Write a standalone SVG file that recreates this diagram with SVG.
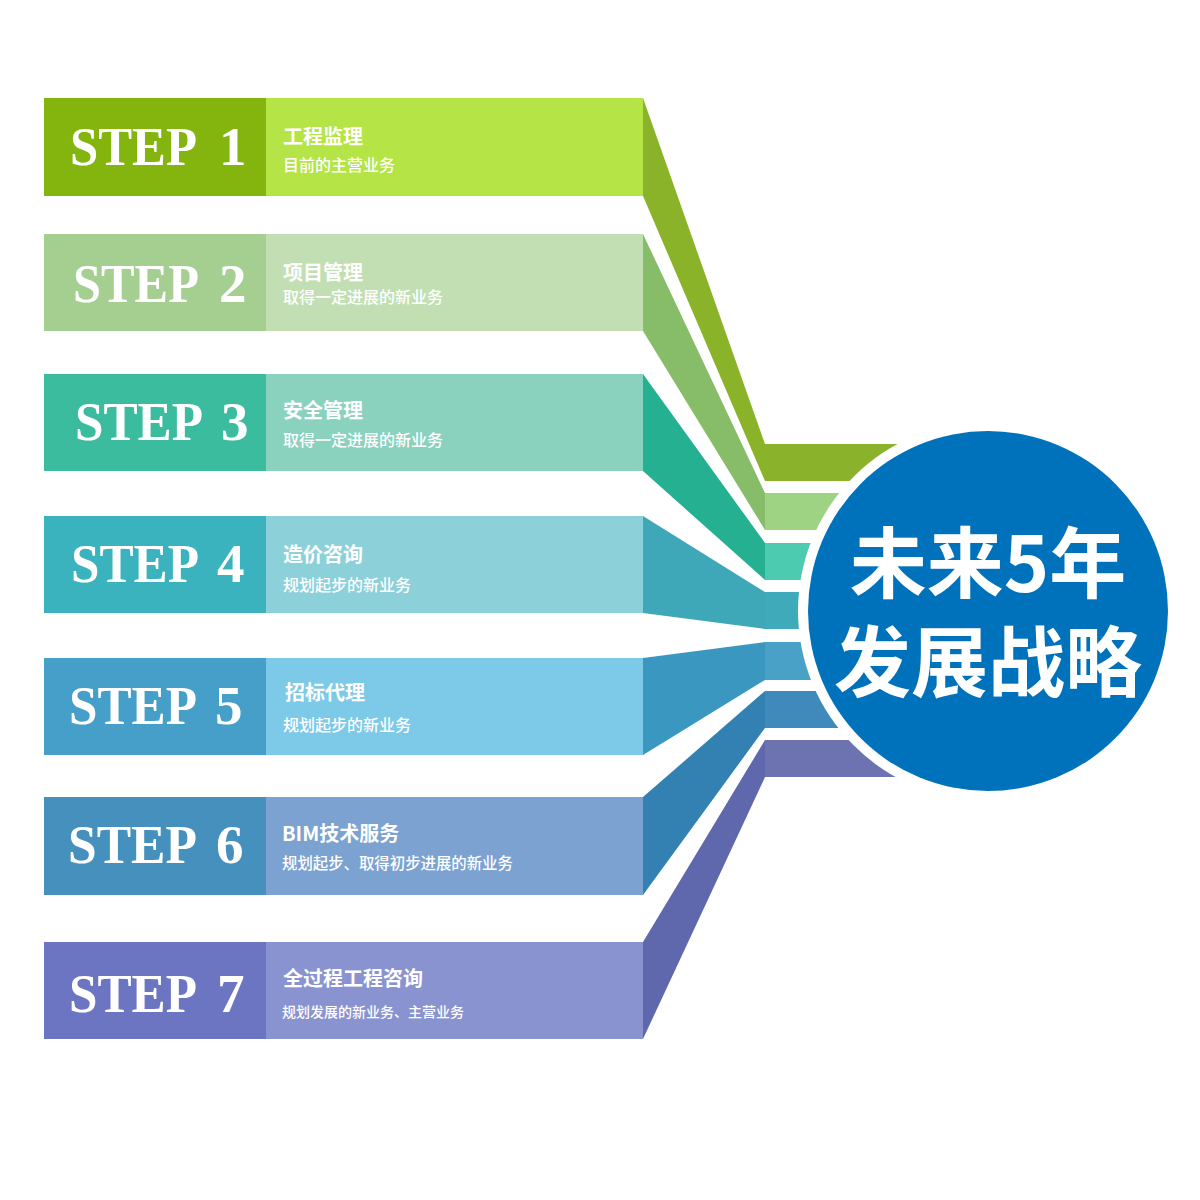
<svg xmlns="http://www.w3.org/2000/svg" width="1200" height="1200" viewBox="0 0 1200 1200">
<style>
.step{font-family:"Liberation Serif","Times New Roman",serif;font-weight:bold;font-size:55px;fill:#fff}
.ttl{font-family:"Noto Sans CJK SC","Noto Sans",sans-serif;font-weight:bold;font-size:20px;fill:#fff}
.sub{font-family:"Noto Sans CJK SC","Noto Sans",sans-serif;font-weight:500;font-size:16px;fill:#fff}
.big{font-family:"Noto Sans CJK SC","Noto Sans",sans-serif;font-weight:bold;font-size:77px;fill:#fff}
</style>
<rect width="1200" height="1200" fill="#fff"/>
<g id="connectors">
<polygon points="643,98 765,444 765,481 643,196" fill="#8ab32a"/>
<polygon points="643,234 765,493 765,530 643,331" fill="#87bd68"/>
<polygon points="643,374 765,543 765,580 643,471" fill="#25b091"/>
<polygon points="643,516 765,592 765,629 643,613" fill="#3ea8b8"/>
<polygon points="643,658 765,642 765,680 643,755" fill="#3a97c0"/>
<polygon points="643,797 765,691 765,728 643,895" fill="#3381b3"/>
<polygon points="643,942 765,740 765,777 643,1039" fill="#5f67ad"/>
<rect x="765" y="444" width="240" height="37" fill="#8ab22a"/>
<rect x="765" y="493" width="240" height="37" fill="#9fd384"/>
<rect x="765" y="543" width="240" height="37" fill="#4ccbb0"/>
<rect x="765" y="592" width="240" height="37" fill="#3faab9"/>
<rect x="765" y="642" width="240" height="38" fill="#4aa1c8"/>
<rect x="765" y="691" width="240" height="37" fill="#3f8aba"/>
<rect x="765" y="740" width="240" height="37" fill="#6c73b0"/>
</g>
<g id="step1">
<rect x="44" y="98" width="222" height="98" fill="#83b50e"/>
<rect x="266" y="98" width="377" height="98" fill="#b4e445"/>
<text class="step" x="70" y="165"><tspan textLength="127" lengthAdjust="spacingAndGlyphs">STEP</tspan><tspan x="219">1</tspan></text>
<text class="ttl" x="283" y="144">工程监理</text>
<text class="sub" x="283" y="171">目前的主营业务</text>
</g>
<g id="step2">
<rect x="44" y="234" width="222" height="97" fill="#a5cf91"/>
<rect x="266" y="234" width="377" height="97" fill="#c2dfb4"/>
<text class="step" x="73" y="302"><tspan textLength="126" lengthAdjust="spacingAndGlyphs">STEP</tspan><tspan x="219">2</tspan></text>
<text class="ttl" x="283" y="280">项目管理</text>
<text class="sub" x="283" y="303">取得一定进展的新业务</text>
</g>
<g id="step3">
<rect x="44" y="374" width="222" height="97" fill="#3cbc9e"/>
<rect x="266" y="374" width="377" height="97" fill="#8bd2be"/>
<text class="step" x="75" y="440"><tspan textLength="128" lengthAdjust="spacingAndGlyphs">STEP</tspan><tspan x="221">3</tspan></text>
<text class="ttl" x="283" y="418">安全管理</text>
<text class="sub" x="283" y="446">取得一定进展的新业务</text>
</g>
<g id="step4">
<rect x="44" y="516" width="222" height="97" fill="#3ab3bf"/>
<rect x="266" y="516" width="377" height="97" fill="#8cd1da"/>
<text class="step" x="71" y="582"><tspan textLength="128" lengthAdjust="spacingAndGlyphs">STEP</tspan><tspan x="217">4</tspan></text>
<text class="ttl" x="283" y="562">造价咨询</text>
<text class="sub" x="283" y="591">规划起步的新业务</text>
</g>
<g id="step5">
<rect x="44" y="658" width="222" height="97" fill="#459fc8"/>
<rect x="266" y="658" width="377" height="97" fill="#7dc9e8"/>
<text class="step" x="69" y="724"><tspan textLength="128" lengthAdjust="spacingAndGlyphs">STEP</tspan><tspan x="215">5</tspan></text>
<text class="ttl" x="285" y="700">招标代理</text>
<text class="sub" x="283" y="731">规划起步的新业务</text>
</g>
<g id="step6">
<rect x="44" y="797" width="222" height="98" fill="#4590bd"/>
<rect x="266" y="797" width="377" height="98" fill="#7ba2d1"/>
<text class="step" x="68" y="863"><tspan textLength="129" lengthAdjust="spacingAndGlyphs">STEP</tspan><tspan x="216">6</tspan></text>
<text class="ttl" x="282" y="841">BIM技术服务</text>
<text class="sub" x="282" y="869" style="font-size:15.4px">规划起步、取得初步进展的新业务</text>
</g>
<g id="step7">
<rect x="44" y="942" width="222" height="97" fill="#6b75c1"/>
<rect x="266" y="942" width="377" height="97" fill="#8993d0"/>
<text class="step" x="69" y="1012"><tspan textLength="128" lengthAdjust="spacingAndGlyphs">STEP</tspan><tspan x="217">7</tspan></text>
<text class="ttl" x="283" y="986">全过程工程咨询</text>
<text class="sub" x="282" y="1017" style="font-size:14px">规划发展的新业务、主营业务</text>
</g>
<g id="center">
<circle cx="988" cy="611" r="190" fill="#fff"/>
<circle cx="988" cy="611" r="180" fill="#0072bc"/>
<text class="big" x="988" y="592" text-anchor="middle">未来5年</text>
<text class="big" x="988" y="691" text-anchor="middle">发展战略</text>
</g>
</svg>
